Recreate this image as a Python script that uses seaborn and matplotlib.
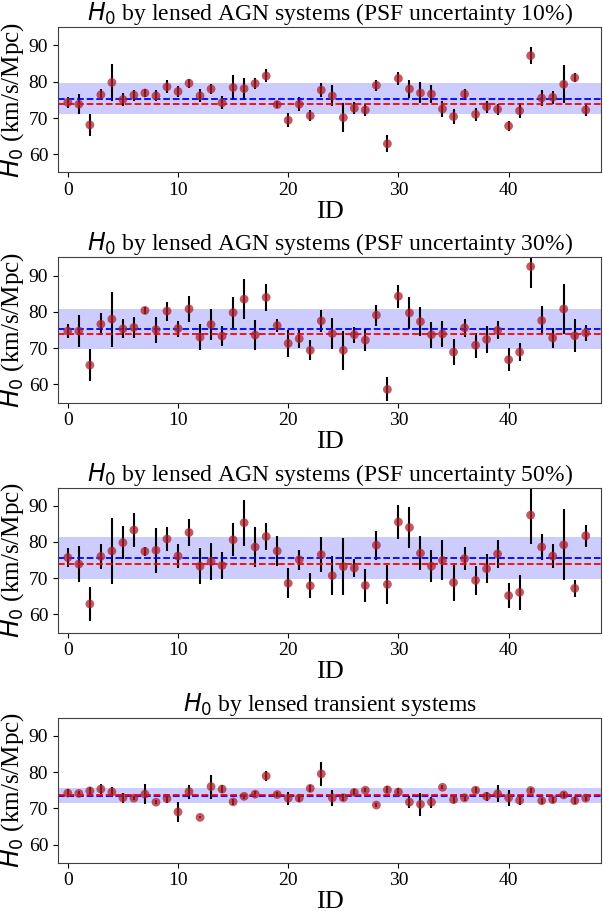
import numpy as np
import pandas as pd
import matplotlib
matplotlib.use('Agg')
import matplotlib.pyplot as plt
import seaborn as sns

# H0 estimates per system, one array per panel
ids = np.arange(48)

h0_psf10 = [74.3, 73.8, 68.1, 76.4, 79.8, 75.1, 76.3, 76.9, 76.1, 78.6, 77.3, 79.6,
            76.1, 78.0, 74.2, 78.4, 78.1, 79.5, 81.6, 73.7, 69.4, 73.8, 70.6, 77.7,
            76.1, 70.1, 72.7, 72.2, 79.0, 62.9, 80.9, 78.0, 76.9, 76.6, 72.5, 70.4,
            76.6, 71.0, 73.1, 72.4, 67.8, 72.0, 87.2, 75.5, 75.7, 79.3, 81.1, 72.2]
err_psf10 = [1.5, 2.8, 3.0, 1.5, 5.0, 1.7, 1.5, 1.2, 1.5, 1.8, 1.5, 1.2,
             1.8, 1.5, 1.8, 3.5, 3.0, 1.5, 1.8, 1.0, 2.0, 2.0, 1.5, 2.0,
             2.9, 4.0, 1.6, 1.6, 1.6, 2.3, 1.7, 2.5, 2.9, 2.5, 2.2, 2.0,
             1.5, 1.8, 1.6, 1.5, 1.5, 2.0, 2.3, 2.2, 1.8, 5.3, 1.2, 1.7]

h0_psf30 = [74.7, 74.7, 65.3, 76.6, 78.0, 75.3, 75.7, 80.4, 75.1, 80.2, 75.4, 80.8,
            73.0, 76.5, 73.3, 79.8, 83.5, 73.6, 84.0, 76.2, 71.3, 72.6, 69.4, 77.5,
            74.0, 69.4, 73.7, 72.2, 79.1, 58.6, 84.3, 79.7, 77.3, 73.7, 73.9, 68.9,
            75.6, 70.8, 72.4, 74.9, 66.8, 68.9, 92.5, 77.6, 72.8, 80.8, 73.4, 74.2]
err_psf30 = [2.0, 4.4, 4.4, 3.0, 7.6, 2.6, 3.0, 1.0, 3.6, 2.6, 2.2, 3.5,
             3.6, 4.3, 2.8, 4.2, 5.6, 4.2, 3.8, 1.7, 3.8, 2.5, 2.8, 3.1,
             4.2, 5.4, 2.2, 3.0, 2.9, 3.3, 3.2, 4.3, 3.9, 3.6, 3.5, 3.5,
             2.5, 3.4, 3.8, 2.5, 3.2, 2.4, 6.0, 3.9, 2.8, 7.0, 4.6, 2.2]

h0_psf50 = [75.7, 73.9, 62.9, 76.0, 77.5, 79.8, 83.3, 77.4, 77.7, 80.8, 76.1, 82.6,
            73.3, 74.6, 73.5, 80.6, 85.3, 78.6, 81.5, 77.5, 68.6, 75.1, 67.9, 76.5,
            70.7, 73.2, 72.8, 68.0, 79.1, 68.3, 85.5, 84.0, 76.9, 73.3, 74.9, 68.8,
            75.4, 69.4, 72.6, 76.7, 65.2, 66.1, 87.4, 78.6, 76.1, 79.2, 67.2, 81.7]
err_psf50 = [2.6, 5.0, 4.6, 3.4, 9.0, 4.5, 4.7, 1.2, 6.2, 3.3, 3.4, 3.8,
             5.0, 5.1, 3.7, 4.6, 6.3, 5.4, 3.6, 4.1, 4.1, 2.8, 3.4, 4.9,
             5.3, 7.8, 2.6, 4.5, 4.0, 5.3, 4.6, 5.6, 4.6, 4.4, 5.5, 5.0,
             3.2, 3.9, 4.0, 3.8, 3.5, 4.8, 8.0, 3.7, 3.4, 9.8, 2.4, 3.1]

h0_transient = [74.2, 74.1, 74.8, 75.3, 74.5, 72.9, 72.8, 73.9, 71.7, 72.7, 69.0, 74.6,
                67.5, 76.0, 75.3, 71.8, 73.3, 73.9, 78.9, 73.8, 72.8, 72.8, 75.5, 79.5,
                72.9, 72.9, 74.4, 75.0, 70.9, 75.1, 74.5, 71.7, 71.1, 71.7, 75.8, 72.4,
                72.9, 75.0, 73.3, 74.0, 72.9, 72.2, 74.9, 72.1, 72.4, 73.7, 72.1, 72.8]
err_transient = [1.0, 0.8, 1.2, 1.3, 1.5, 1.4, 0.5, 2.8, 0.5, 1.2, 2.7, 1.9,
                 0.3, 3.3, 1.0, 0.8, 0.6, 0.8, 1.5, 0.8, 1.8, 1.0, 1.0, 3.4,
                 2.2, 1.0, 0.8, 0.6, 0.5, 1.0, 1.0, 1.6, 3.2, 1.5, 0.5, 1.0,
                 0.8, 0.8, 1.3, 2.3, 2.2, 1.2, 0.8, 0.8, 0.8, 0.8, 1.0, 0.8]

titles = [r'$H_0$ by lensed AGN systems (PSF uncertainty 10%)',
          r'$H_0$ by lensed AGN systems (PSF uncertainty 30%)',
          r'$H_0$ by lensed AGN systems (PSF uncertainty 50%)',
          r'$H_0$ by lensed transient systems']
h0_true = 73.8

sns.set_style('ticks')
plt.rcParams['font.family'] = ['Liberation Serif', 'DejaVu Serif']
plt.rcParams['mathtext.fontset'] = 'dejavusans'
plt.rcParams['text.color'] = 'black'
plt.rcParams['axes.labelcolor'] = 'black'
plt.rcParams['xtick.color'] = 'black'
plt.rcParams['ytick.color'] = 'black'

fig, axes = plt.subplots(4, 1, figsize=(6.03, 9.11), dpi=100)
fig.subplots_adjust(left=0.096, right=0.997, top=0.970, bottom=0.053, hspace=0.586)

panels = [(h0_psf10, err_psf10), (h0_psf30, err_psf30),
          (h0_psf50, err_psf50), (h0_transient, err_transient)]

for ax, (vals, errs), title in zip(axes, panels, titles):
    df = pd.DataFrame({'ID': ids, 'H0': vals, 'err': errs})
    mean = df['H0'].mean()
    std = df['H0'].std()
    ax.axhspan(mean - std, mean + std, color='blue', alpha=0.2, lw=0)
    ax.errorbar(df['ID'], df['H0'], yerr=df['err'], fmt='none', ecolor='black',
                elinewidth=1.5, zorder=2)
    sns.scatterplot(data=df, x='ID', y='H0', ax=ax, color='#b0202a', alpha=0.75,
                    s=40, edgecolor='none', zorder=3)
    ax.axhline(mean, color='blue', ls='--', lw=1.3)
    ax.axhline(h0_true, color='red', ls='--', lw=1.3)
    ax.set_xlim(-0.9, 48.4)
    ax.set_ylim(55, 95)
    ax.set_yticks([60, 70, 80, 90])
    ax.set_xticks([0, 10, 20, 30, 40])
    ax.tick_params(labelsize=14)
    ax.set_title(title, fontsize=17, pad=4)
    ax.set_xlabel('ID', fontsize=19, labelpad=1)
    ax.set_ylabel(r'$H_0$ (km/s/Mpc)', fontsize=18, labelpad=2)
    for sp in ax.spines.values():
        sp.set_color('0.25')

fig.savefig('out.png', dpi=100)
